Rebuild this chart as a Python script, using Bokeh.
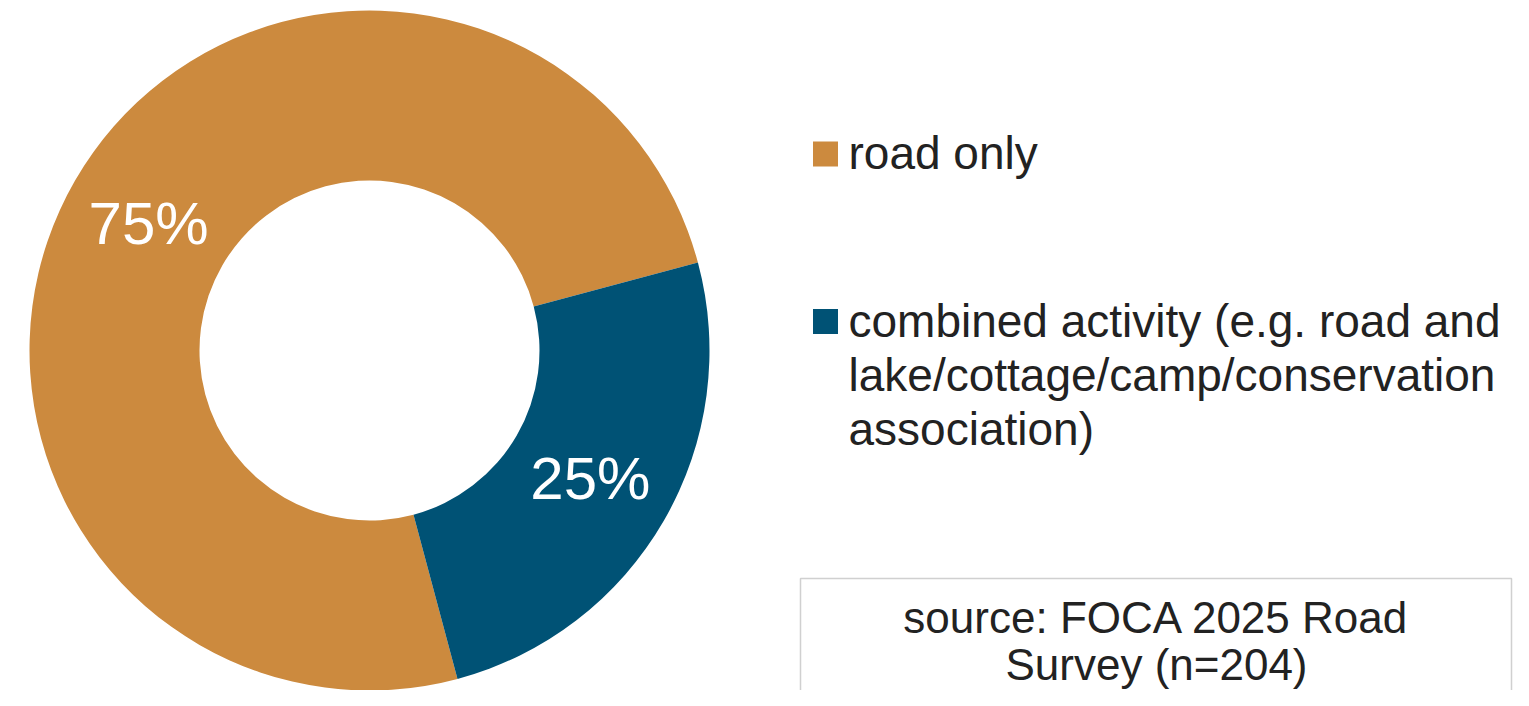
import numpy as np
from bokeh.plotting import figure
from bokeh.models import Range1d
from bokeh.embed import file_html
from bokeh.resources import INLINE
from bokeh.core.properties import value

# ---- data ----
categories = ["road only",
              "combined activity (e.g. road and\nlake/cottage/camp/conservation\nassociation)"]
shares = [75, 25]
colors = ["#CC8A3E", "#005275"]
pct_labels = ["75%", "25%"]
source_note = ["source: FOCA 2025 Road", "Survey (n=204)"]

FONT = value("Liberation Sans")
TXT = "#222222"

W, H = 1513, 690
REF_H = 706
# data coordinates: x = screen x, y = REF_H - screen y
p = figure(width=W, height=H, x_range=Range1d(0, W), y_range=Range1d(REF_H - H, REF_H),
           output_backend="svg", toolbar_location=None,
           x_axis_location=None, y_axis_location=None, min_border=0,
           outline_line_color=None, background_fill_color="white",
           border_fill_color="white")
p.grid.visible = False

def sy(y):
    return REF_H - y

# ---- donut ----
cx, cy = 369, sy(350)
r_out, r_in = 340, 170
vals = np.array(shares, dtype=float)
frac = vals / vals.sum()
cum_end = np.cumsum(frac)
cum_start = cum_end - frac
offset = np.deg2rad(-75)
start = offset - cum_end * 2 * np.pi
end = offset - cum_start * 2 * np.pi

p.annular_wedge(x=[cx] * len(vals), y=[cy] * len(vals), inner_radius=r_in, outer_radius=r_out,
                start_angle=list(start), end_angle=list(end), direction="anticlock",
                fill_color=colors, line_color=None)

mid = offset - (cum_start + frac / 2) * 2 * np.pi
r_mid = (r_in + r_out) / 2
p.text(x=list(cx + r_mid * np.cos(mid)), y=list(cy + r_mid * np.sin(mid)), text=pct_labels,
       text_font=FONT, text_font_size="60px", text_color="white",
       text_align="center", text_baseline="middle")

# ---- legend ----
sq_x = 825
sq_size = 25
row_sq_y = [153.5, 321]
row_mid_y = [152, 320]
line_h = 54
for cat, col, sqy, my in zip(categories, colors, row_sq_y, row_mid_y):
    p.rect(x=[sq_x], y=[sy(sqy)], width=sq_size, height=sq_size, fill_color=col, line_color=None)
    lines = cat.split("\n")
    p.text(x=[848] * len(lines), y=[sy(my + i * line_h) for i in range(len(lines))], text=lines,
           text_font=FONT, text_font_size="46px", text_color=TXT,
           text_align="left", text_baseline="middle")

# ---- source box ----
p.quad(left=[800], right=[1511], top=[sy(578)], bottom=[sy(760)],
       fill_color="white", line_color="#D0D0D0", line_width=1.5)
p.text(x=[1156] * len(source_note), y=[sy(617), sy(664)], text=source_note,
       text_font=FONT, text_font_size="44px", text_color=TXT,
       text_align="center", text_baseline="middle")

open("out.html", "w").write(file_html(p, INLINE))
